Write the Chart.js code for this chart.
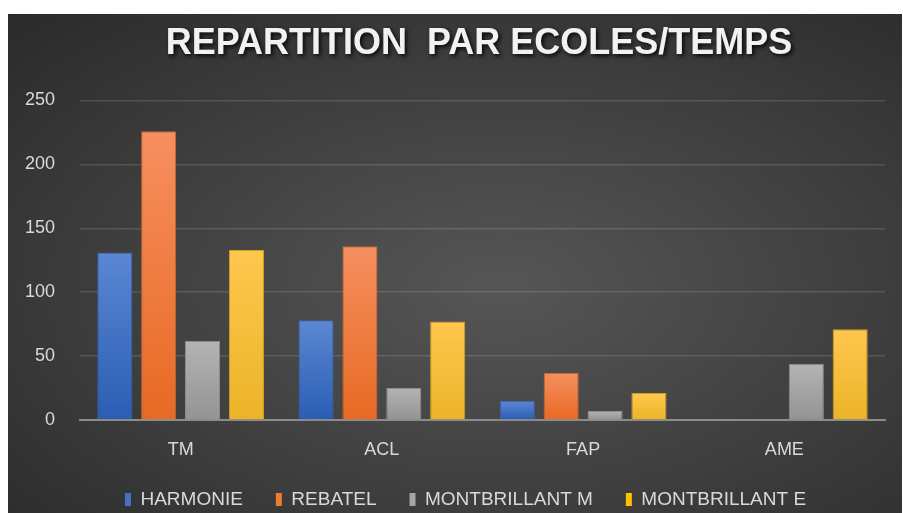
<!DOCTYPE html>
<html><head><meta charset="utf-8">
<script src="https://cdn.jsdelivr.net/npm/chart.js@4"></script>
<style>
html,body{margin:0;padding:0;background:#fff;}
#wrap{position:absolute;left:8px;top:14px;width:894px;height:499px;
background:radial-gradient(ellipse farthest-corner at 55% 55%, #565656 0%, #474747 35%, #2a2a2a 100%);}
canvas{display:block}
</style></head><body><div id="wrap"><canvas id="c" width="894" height="499"></canvas></div>
<script>
const titleText = 'REPARTITION  PAR ECOLES/TEMPS';
const categories = ['TM', 'ACL', 'FAP', 'AME'];
const seriesNames = ['HARMONIE', 'REBATEL', 'MONTBRILLANT M', 'MONTBRILLANT E'];
const harmonie = [131, 78, 15, null];
const rebatel = [226, 136, 37, null];
const montbrillantM = [62, 25, 7, 44];
const montbrillantE = [133, 77, 21, 71];
const yMin = 0, yMax = 250, yStep = 50;

const seriesValues = [harmonie, rebatel, montbrillantM, montbrillantE];
const topColors = ['#5b87d3', '#f68f5f', '#b4b4b4', '#ffc74e'];
const bottomColors = ['#2a5db3', '#e86a24', '#939393', '#ebb428'];
const solidColors = ['#4472c4', '#ed7d31', '#a5a5a5', '#ffc000'];
const borderColors = ['#3a64ad', '#c9662c', '#8e8e8e', '#d0a020'];

function barGradient(ctx, i) {
  const chart = ctx.chart;
  const ys = chart.scales.y;
  if (!ys || ctx.raw == null || ctx.type !== 'data') return solidColors[i];
  const top = ys.getPixelForValue(ctx.raw);
  const base = ys.getPixelForValue(0);
  if (!isFinite(top) || !isFinite(base) || top === base) return solidColors[i];
  const g = chart.ctx.createLinearGradient(0, top, 0, base);
  g.addColorStop(0, topColors[i]);
  g.addColorStop(1, bottomColors[i]);
  return g;
}

const titlePlugin = {
  id: 'shadowTitle',
  beforeDraw(chart) {
    const lg = chart.legend;
    if (lg && !lg._shifted) {
      lg.left += 19; lg.right += 19;
      lg.top -= 22.5; lg.bottom -= 22.5;
      lg._shifted = true;
    }
  },
  afterDraw(chart) {
    const c = chart.ctx;
    c.save();
    c.font = 'bold 36px "Liberation Sans", Arial, sans-serif';
    c.textAlign = 'center';
    c.textBaseline = 'middle';
    c.shadowColor = 'rgba(0,0,0,0.85)';
    c.shadowBlur = 4;
    c.shadowOffsetX = 2;
    c.shadowOffsetY = 2;
    c.fillStyle = '#f2f2f2';
    c.fillText(titleText, 471, 30.5);
    c.restore();
  }
};

new Chart(document.getElementById('c'), {
  type: 'bar',
  data: {
    labels: categories,
    datasets: seriesNames.map((name, i) => ({
      label: name,
      data: seriesValues[i],
      backgroundColor: (ctx) => barGradient(ctx, i),
      borderColor: borderColors[i],
      borderWidth: 1,
      categoryPercentage: 0.872,
      barPercentage: 0.8
    }))
  },
  options: {
    responsive: false,
    animation: false,
    layout: { padding: { top: 86.5, left: 0, right: 17, bottom: -28.5 } },
    plugins: {
      title: { display: false },
      tooltip: { enabled: false },
      legend: {
        position: 'bottom',
        labels: {
          color: '#d9d9d9',
          font: { family: '"Liberation Sans", Arial, sans-serif', size: 19 },
          boxWidth: 6,
          boxHeight: 13,
          padding: 33,
          generateLabels: (chart) => seriesNames.map((name, i) => ({
            text: name,
            fillStyle: solidColors[i],
            strokeStyle: solidColors[i],
            lineWidth: 0,
            fontColor: '#d9d9d9',
            hidden: false,
            datasetIndex: i
          }))
        }
      }
    },
    scales: {
      x: {
        grid: { display: false, drawTicks: false },
        border: { display: true, color: '#8c8c8c', width: 2 },
        ticks: {
          color: '#d9d9d9',
          padding: 19,
          font: { family: '"Liberation Sans", Arial, sans-serif', size: 18 }
        }
      },
      y: {
        min: yMin,
        max: yMax,
        afterFit(scale) { scale.width = 72; },
        grid: { color: 'rgba(255,255,255,0.13)', lineWidth: 1.5, drawTicks: false },
        border: { display: false },
        ticks: {
          stepSize: yStep,
          color: '#d9d9d9',
          padding: 25,
          font: { family: '"Liberation Sans", Arial, sans-serif', size: 18 }
        }
      }
    }
  },
  plugins: [titlePlugin]
});
</script>
</body></html>
